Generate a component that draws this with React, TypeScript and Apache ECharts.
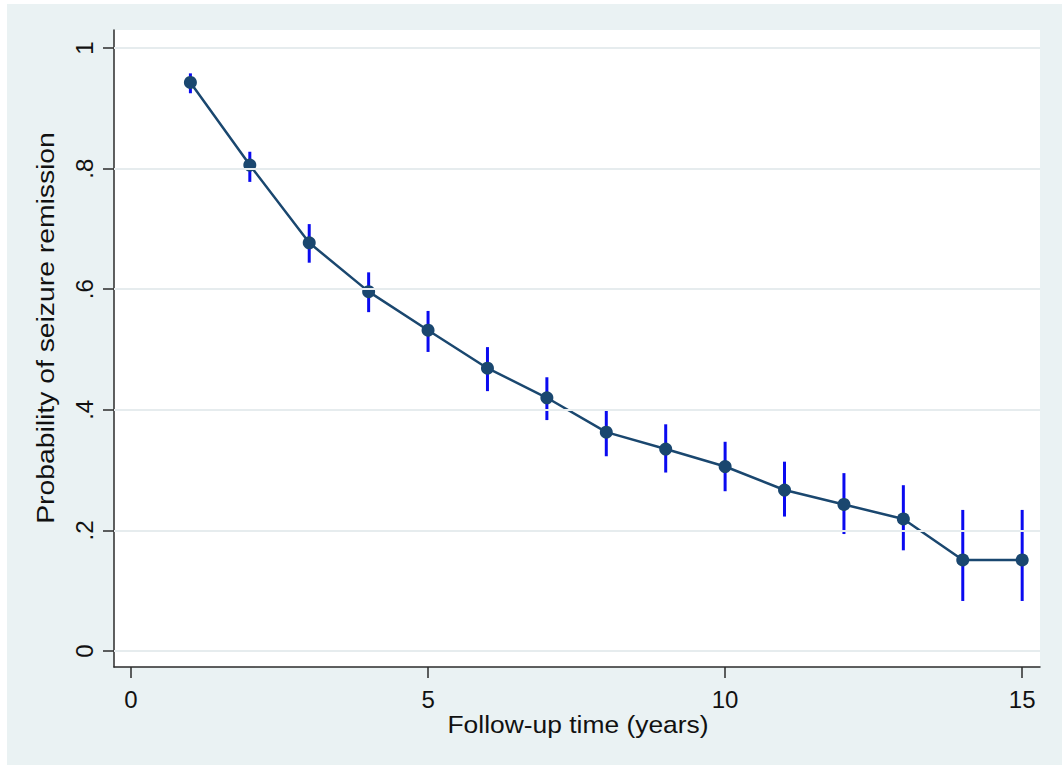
import React, { useEffect, useRef } from "react";
import * as echarts from "echarts";

const years = [1, 2, 3, 4, 5, 6, 7, 8, 9, 10, 11, 12, 13, 14, 15];
const probability = [0.943, 0.806, 0.677, 0.596, 0.532, 0.469, 0.42, 0.363, 0.335, 0.306, 0.267, 0.243, 0.219, 0.151, 0.151];
const ciLower = [0.925, 0.778, 0.644, 0.562, 0.496, 0.431, 0.383, 0.323, 0.296, 0.265, 0.223, 0.194, 0.167, 0.083, 0.083];
const ciUpper = [0.958, 0.828, 0.708, 0.628, 0.564, 0.504, 0.454, 0.401, 0.376, 0.347, 0.314, 0.295, 0.275, 0.234, 0.234];
const xTicks = [0, 5, 10, 15];
const yTicks = [0, 0.2, 0.4, 0.6, 0.8, 1];
const xTitle = "Follow-up time (years)";
const yTitle = "Probability of seizure remission";

const FONT = "'Liberation Sans', Arial, Helvetica, sans-serif";
const NAVY = "#1a476f";
const BLUE = "#0a0af0";
const AXIS = "#2b2b2b";
const GRID = "#e6ecee";

function yLabel(v: number): string {
  if (Math.abs(v) < 1e-9) return "0";
  if (Math.abs(v - 1) < 1e-9) return "1";
  return "." + Math.round(v * 10);
}

export default function App() {
  const ref = useRef<HTMLDivElement>(null);

  useEffect(() => {
    if (!ref.current) return;
    const chart = echarts.init(ref.current, undefined, { renderer: "svg" });

    const errData = years.map((x, i) => [x, ciLower[i], ciUpper[i]]);
    const lineData = years.map((x, i) => [x, probability[i]]);

    chart.setOption({
      animation: false,
      backgroundColor: "#ffffff",
      graphic: [
        {
          type: "rect",
          z: -10,
          silent: true,
          shape: { x: 7, y: 4, width: 1055, height: 761 },
          style: { fill: "#eaf2f3" },
        },
        {
          type: "text",
          x: 578,
          y: 724,
          silent: true,
          scaleX: 1.1,
          style: {
            text: xTitle,
            font: `24px ${FONT}`,
            fill: "#111111",
            align: "center",
            verticalAlign: "middle",
          },
        },
        {
          type: "text",
          x: 46,
          y: 328,
          rotation: Math.PI / 2,
          scaleX: 1.18,
          silent: true,
          style: {
            text: yTitle,
            font: `24px ${FONT}`,
            fill: "#111111",
            align: "center",
            verticalAlign: "middle",
          },
        },
      ],
      grid: {
        left: 114,
        right: 22,
        top: 30,
        bottom: 102,
        show: true,
        backgroundColor: "#ffffff",
        borderWidth: 0,
      },
      xAxis: {
        type: "value",
        min: -0.286,
        max: 15.3,
        axisLine: { show: true, onZero: false, lineStyle: { color: AXIS, width: 1.5 } },
        axisTick: { show: true, length: 11, customValues: xTicks, lineStyle: { color: AXIS, width: 1.5 } },
        axisLabel: {
          customValues: xTicks,
          margin: 20,
          fontSize: 24,
          fontFamily: FONT,
          color: "#111111",
        },
        splitLine: { show: false },
      },
      yAxis: {
        type: "value",
        min: -0.0265,
        max: 1.0299,
        axisLine: { show: true, onZero: false, lineStyle: { color: AXIS, width: 1.5 } },
        axisTick: { show: true, length: 11, customValues: yTicks, lineStyle: { color: AXIS, width: 1.5 } },
        axisLabel: {
          customValues: yTicks,
          rotate: 90,
          margin: 18,
          fontSize: 24,
          fontFamily: FONT,
          color: "#111111",
          formatter: (v: number) => yLabel(v),
        },
        splitLine: { show: false },
      },
      series: [
        {
          type: "line",
          data: [],
          z: 1,
          silent: true,
          markLine: {
            silent: true,
            symbol: ["none", "none"],
            label: { show: false },
            emphasis: { disabled: true },
            lineStyle: { color: GRID, width: 2, type: "solid" },
            data: yTicks.map((v) => ({ yAxis: v })),
          },
        },
        {
          type: "custom",
          z: 2,
          silent: true,
          data: errData,
          encode: { x: 0, y: [1, 2] },
          renderItem: (params: any, api: any) => {
            const x = api.value(0);
            const p1 = api.coord([x, api.value(1)]);
            const p2 = api.coord([x, api.value(2)]);
            return {
              type: "line",
              shape: { x1: p1[0], y1: p1[1], x2: p2[0], y2: p2[1] },
              style: { stroke: BLUE, lineWidth: 3 },
            };
          },
        },
        {
          type: "line",
          z: 3,
          data: lineData,
          symbol: "circle",
          symbolSize: 13,
          showSymbol: true,
          lineStyle: { color: NAVY, width: 2.5 },
          itemStyle: { color: NAVY },
          emphasis: { disabled: true },
        },
      ],
    });

    return () => chart.dispose();
  }, []);

  return (
    <div style={{ position: "fixed", left: 0, top: 0, width: 1062, height: 769, background: "#ffffff" }}>
      <div ref={ref} style={{ width: 1062, height: 769 }} />
    </div>
  );
}
